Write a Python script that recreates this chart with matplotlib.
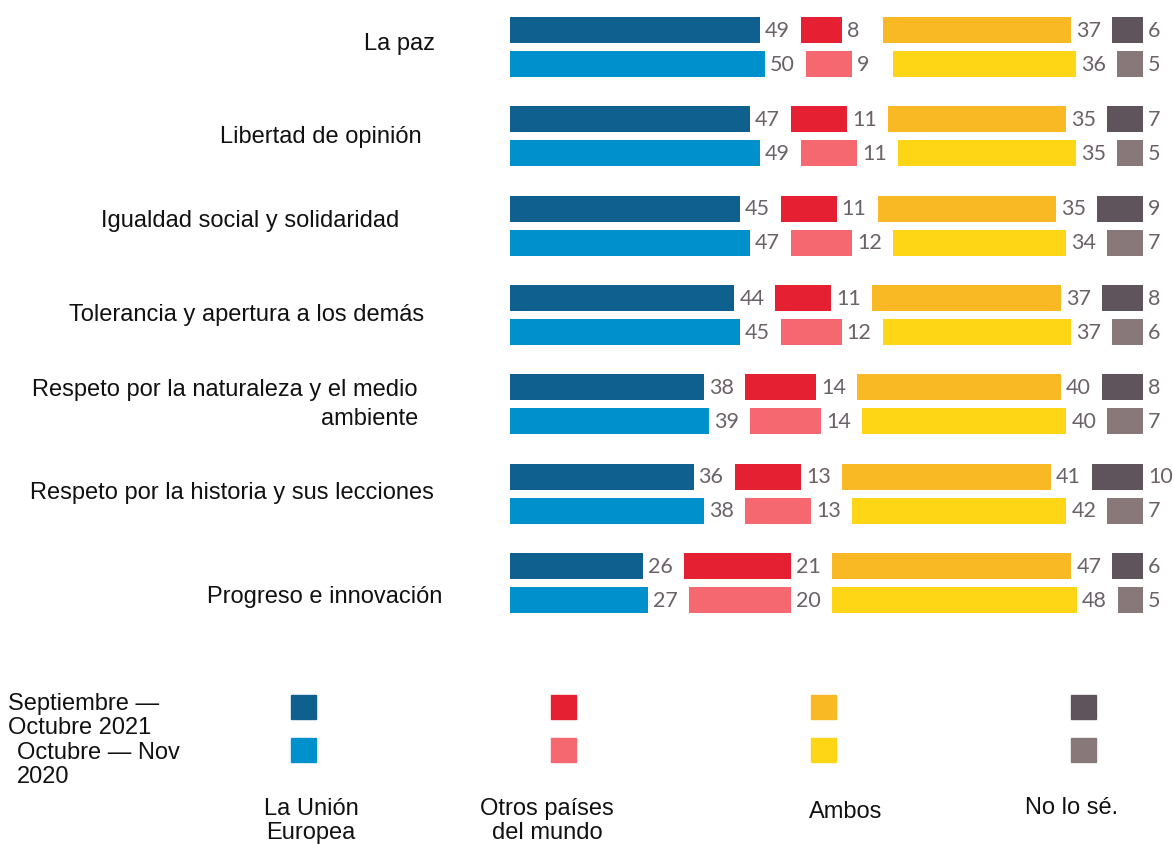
import matplotlib.pyplot as plt
from matplotlib.patches import Rectangle

# data
categories = ["La paz", "Libertad de opinión", "Igualdad social y solidaridad",
              "Tolerancia y apertura a los demás",
              "Respeto por la naturaleza y el medio\nambiente",
              "Respeto por la historia y sus lecciones", "Progreso e innovación"]
ue_2021 = [49, 47, 45, 44, 38, 36, 26]
otros_2021 = [8, 11, 11, 11, 14, 13, 21]
ambos_2021 = [37, 35, 35, 37, 40, 41, 47]
nose_2021 = [6, 7, 9, 8, 8, 10, 6]
ue_2020 = [50, 49, 47, 45, 39, 38, 27]
otros_2020 = [9, 11, 12, 12, 14, 13, 20]
ambos_2020 = [36, 35, 34, 37, 40, 42, 48]
nose_2020 = [5, 5, 7, 6, 7, 7, 5]
answers = ["La Unión\nEuropea", "Otros países\ndel mundo", "Ambos", "No lo sé."]
periods = ["Septiembre —\nOctubre 2021", "Octubre — Nov\n2020"]

colors_2021 = ["#0f5f8f", "#e42032", "#f8b924", "#5f535c"]
colors_2020 = ["#0091cd", "#f56870", "#fed616", "#897879"]
label_color = "#6b6168"
text_color = "#111111"

plt.rcParams['font.family'] = ['Liberation Sans', 'DejaVu Sans']

W, H = 1174, 844
fig = plt.figure(figsize=(W / 100, H / 100), dpi=100)

PX = 5.1           # pixels per percentage point
GAP = 41 / PX      # gap between segments (room for value labels)
x0 = 510
pitch = 89.3
ax_h = 640
ax = fig.add_axes([x0 / W, 1 - ax_h / H, (W - x0) / W, ax_h / H])
ax.set_xlim(0, (W - x0) / PX)
top = -47 / pitch
ax.set_ylim(top + ax_h / pitch, top)
ax.axis('off')

bar_h = 26 / pitch
off = 17 / pitch
pad = 5 / PX

series = [
    (-off, [ue_2021, otros_2021, ambos_2021, nose_2021], colors_2021),
    (off, [ue_2020, otros_2020, ambos_2020, nose_2020], colors_2020),
]
ys = list(range(len(categories)))
for dy, groups, cols in series:
    lefts = [0.0] * len(categories)
    for vals, c in zip(groups, cols):
        yy = [y + dy for y in ys]
        ax.barh(yy, vals, left=lefts, height=bar_h, color=c)
        for y, l, v in zip(yy, lefts, vals):
            ax.text(l + v + pad, y + 0.01, str(v), va='center', ha='left',
                    fontsize=15.5, color=label_color, family=['Lato', 'DejaVu Sans'])
        lefts = [l + v + GAP for l, v in zip(lefts, vals)]

# category labels (right edges in pixels)
label_right = [435, 422, 399, 424, 418, 434, 442]
label_dy = [-3, 1, -5, 0, 0, 0, 14]
for i, (cat, r) in enumerate(zip(categories, label_right)):
    ax.text((r - x0) / PX, i + label_dy[i] / pitch, cat, ha='right', va='center',
            fontsize=17, color=text_color, multialignment='right',
            linespacing=1.4, clip_on=False)

# legend
col_x = [291, 551, 811, 1071]
row_y = [695, 738]
for j, cols in enumerate([colors_2021, colors_2020]):
    for xl, c in zip(col_x, cols):
        fig.add_artist(Rectangle((xl / W, 1 - (row_y[j] + 24) / H), 25 / W, 24 / H,
                                 transform=fig.transFigure, color=c))

fig.text(8 / W, 1 - 716 / H, periods[0], ha='left', va='center', fontsize=17,
         color=text_color, linespacing=1.1)
fig.text(17 / W, 1 - 765 / H, periods[1], ha='left', va='center', fontsize=17,
         color=text_color, linespacing=1.1)

ans_x = [311, 547, 846, 1072]
ans_y = [821, 821, 812, 808]
for a, xc, yc in zip(answers, ans_x, ans_y):
    fig.text(xc / W, 1 - yc / H, a, ha='center', va='center', fontsize=17,
             color=text_color, linespacing=1.15)

fig.savefig("out.png", dpi=100)
